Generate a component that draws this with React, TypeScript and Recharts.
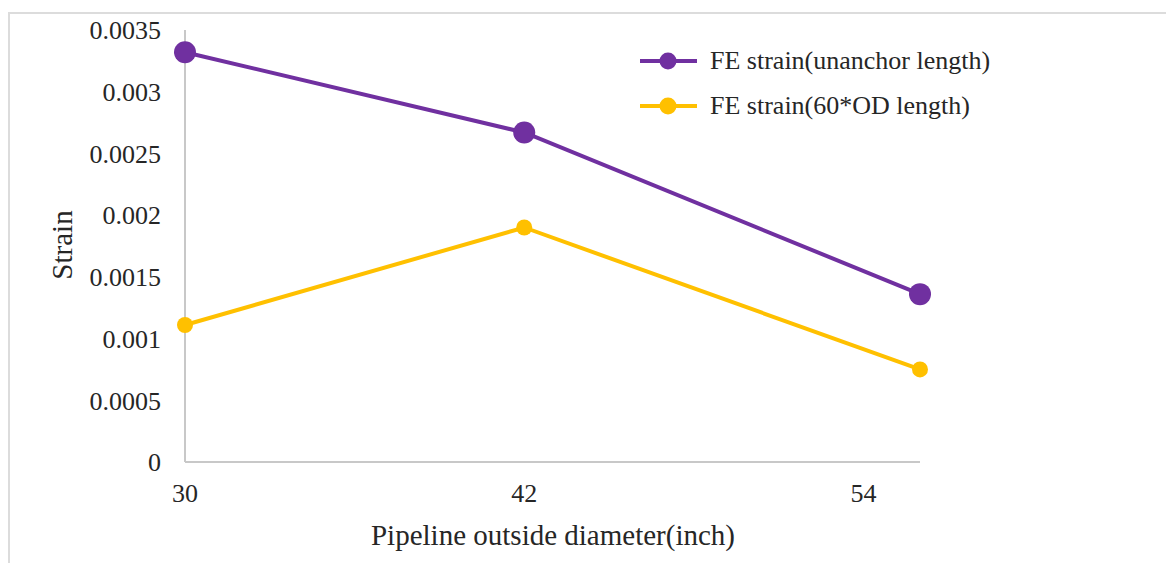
import { LineChart, Line, XAxis, YAxis } from 'recharts';

const diameters = [30, 42, 56];
const unanchorStrain = [0.00332, 0.00267, 0.00136];
const odLengthStrain = [0.00111, 0.0019, 0.00075];
const xTicks = [30, 42, 54];
const yTicks = [0, 0.0005, 0.001, 0.0015, 0.002, 0.0025, 0.003, 0.0035];

const seriesNames = ['FE strain(unanchor length)', 'FE strain(60*OD length)'];
const seriesColors = ['#7030A0', '#FFC000'];

const data = diameters.map((d, i) => ({
  od: d,
  unanchor: unanchorStrain[i],
  odLength: odLengthStrain[i],
}));

const font = '"Liberation Serif", "Times New Roman", serif';

function LegendBox() {
  return (
    <div style={{ position: 'absolute', left: 630, top: 24, fontFamily: font }}>
      {seriesNames.map((name, i) => (
        <div key={name} style={{ display: 'flex', alignItems: 'center', height: 45 }}>
          <svg width={70} height={20}>
            <line x1={0} y1={10} x2={57} y2={10} stroke={seriesColors[i]} strokeWidth={4} />
            <circle cx={28} cy={10} r={8.5} fill={seriesColors[i]} />
          </svg>
          <span style={{ fontSize: 26, color: '#262626', whiteSpace: 'nowrap' }}>{name}</span>
        </div>
      ))}
    </div>
  );
}

export default function App() {
  return (
    <div style={{ paddingTop: 4 }}>
      <div
        style={{
          position: 'relative',
          width: 1164,
          height: 549,
          borderTop: '2px solid #DCDCDC',
          borderLeft: '2px solid #DCDCDC',
          background: '#fff',
        }}
      >
        <LineChart
          width={1164}
          height={549}
          data={data}
          margin={{ top: 16, right: 254, bottom: 41, left: 65 }}
        >
          <XAxis
            dataKey="od"
            type="number"
            domain={[30, 56]}
            ticks={xTicks}
            height={60}
            stroke="#C8C8C8"
            strokeWidth={2}
            tickLine={false}
            tickSize={6}
            tickMargin={16}
            tick={{ fill: '#262626', fontSize: 26, fontFamily: font }}
          />
          <YAxis
            type="number"
            domain={[0, 0.0035]}
            ticks={yTicks}
            width={110}
            stroke="#C8C8C8"
            strokeWidth={2}
            tickLine={false}
            tickSize={6}
            tickMargin={18}
            tickFormatter={(v: number) => String(v)}
            tick={{ fill: '#262626', fontSize: 26, fontFamily: font }}
          />
          <Line
            name={seriesNames[0]}
            dataKey="unanchor"
            stroke={seriesColors[0]}
            strokeWidth={4}
            dot={{ r: 11, fill: seriesColors[0], stroke: seriesColors[0], strokeWidth: 0 }}
            activeDot={false}
            isAnimationActive={false}
          />
          <Line
            name={seriesNames[1]}
            dataKey="odLength"
            stroke={seriesColors[1]}
            strokeWidth={4}
            dot={{ r: 8, fill: seriesColors[1], stroke: seriesColors[1], strokeWidth: 0 }}
            activeDot={false}
            isAnimationActive={false}
          />
        </LineChart>
        <LegendBox />
        <div
          style={{
            position: 'absolute',
            left: 52,
            top: 231,
            transform: 'translate(-50%, -50%) rotate(-90deg)',
            fontFamily: font,
            fontSize: 29,
            color: '#262626',
            whiteSpace: 'nowrap',
          }}
        >
          Strain
        </div>
        <div
          style={{
            position: 'absolute',
            left: 543,
            top: 521,
            transform: 'translate(-50%, -50%)',
            fontFamily: font,
            fontSize: 29,
            color: '#262626',
            whiteSpace: 'nowrap',
          }}
        >
          Pipeline outside diameter(inch)
        </div>
      </div>
    </div>
  );
}
